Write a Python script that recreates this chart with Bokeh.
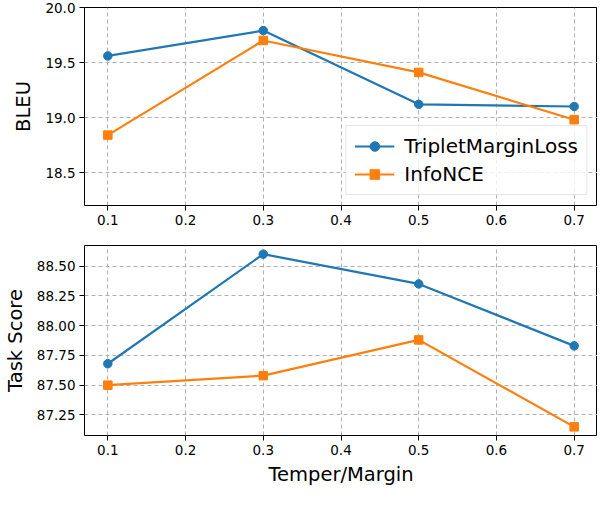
from bokeh.plotting import figure
from bokeh.layouts import column
from bokeh.models import Range1d, FixedTicker, NumeralTickFormatter, Legend, LegendItem
from bokeh.embed import file_html
from bokeh.resources import INLINE

x_vals = [0.1, 0.3, 0.5, 0.7]
bleu_triplet = [19.56, 19.79, 19.12, 19.10]
bleu_infonce = [18.84, 19.70, 19.41, 18.98]
task_triplet = [87.68, 88.60, 88.35, 87.83]
task_infonce = [87.50, 87.58, 87.88, 87.15]
x_ticks = [0.1, 0.2, 0.3, 0.4, 0.5, 0.6, 0.7]
bleu_ticks = [18.5, 19.0, 19.5, 20.0]
task_ticks = [87.25, 87.50, 87.75, 88.00, 88.25, 88.50]

BLUE = "#1f77b4"
ORANGE = "#ff7f0e"
FONT = "DejaVu Sans"
W = 597


def style(p, yticks, yfmt, ylabel):
    p.outline_line_color = "black"
    p.outline_line_width = 1
    p.outline_line_alpha = 1
    p.background_fill_color = "white"
    p.border_fill_color = "white"
    for ax in (p.xaxis[0], p.yaxis[0]):
        ax.axis_line_color = None
        ax.major_tick_line_color = "black"
        ax.major_tick_out = 5
        ax.major_tick_in = 0
        ax.minor_tick_line_color = None
        ax.major_label_standoff = 4
        ax.major_label_text_font = FONT
        ax.major_label_text_font_size = "13.5px"
        ax.major_label_text_color = "black"
        ax.axis_label_text_font = FONT
        ax.axis_label_text_font_size = "19.5px"
        ax.axis_label_text_font_style = "normal"
        ax.axis_label_text_color = "black"
        ax.axis_label_standoff = 7
    p.xaxis[0].ticker = FixedTicker(ticks=x_ticks)
    p.xaxis[0].formatter = NumeralTickFormatter(format="0.0")
    p.yaxis[0].ticker = FixedTicker(ticks=yticks)
    p.yaxis[0].formatter = NumeralTickFormatter(format=yfmt)
    p.yaxis[0].axis_label = ylabel
    for g in (p.xgrid[0], p.ygrid[0]):
        g.grid_line_color = "#b0b0b0"
        g.grid_line_dash = "4 3"
        g.grid_line_width = 1


p1 = figure(width=W, height=235, output_backend="svg", toolbar_location=None,
            x_range=Range1d(0.07, 0.73), y_range=Range1d(18.2, 20.0),
            min_border_left=70, min_border_right=0, min_border_top=7, min_border_bottom=30)
style(p1, bleu_ticks, "0.0", "BLEU")
l1 = p1.line(x_vals, bleu_triplet, line_color=BLUE, line_width=2.2)
s1 = p1.scatter(x_vals, bleu_triplet, marker="circle", size=8.5, fill_color=BLUE, line_color=BLUE)
l2 = p1.line(x_vals, bleu_infonce, line_color=ORANGE, line_width=2.2)
s2 = p1.scatter(x_vals, bleu_infonce, marker="square", size=8.5, fill_color=ORANGE, line_color=ORANGE)
legend = Legend(items=[LegendItem(label="TripletMarginLoss", renderers=[l1, s1]),
                       LegendItem(label="InfoNCE", renderers=[l2, s2])],
                location="bottom_right")
legend.margin = 10
legend.padding = 8
legend.spacing = 4
legend.label_height = 24
legend.glyph_height = 24
legend.glyph_width = 40
legend.label_standoff = 10
legend.label_text_font = FONT
legend.label_text_font_size = "20px"
legend.label_text_color = "black"
legend.border_line_color = "#cccccc"
legend.border_line_width = 1
legend.background_fill_alpha = 0.8
p1.add_layout(legend, "center")

p2 = figure(width=W, height=253, output_backend="svg", toolbar_location=None,
            x_range=Range1d(0.07, 0.73), y_range=Range1d(87.0775, 88.6725),
            min_border_left=70, min_border_right=0, min_border_top=10, min_border_bottom=45)
style(p2, task_ticks, "0.00", "Task Score")
p2.xaxis[0].axis_label = "Temper/Margin"
p2.xaxis[0].axis_label_standoff = 5
p2.line(x_vals, task_triplet, line_color=BLUE, line_width=2.2)
p2.scatter(x_vals, task_triplet, marker="circle", size=8.5, fill_color=BLUE, line_color=BLUE)
p2.line(x_vals, task_infonce, line_color=ORANGE, line_width=2.2)
p2.scatter(x_vals, task_infonce, marker="square", size=8.5, fill_color=ORANGE, line_color=ORANGE)

layout = column(p1, p2)
open("out.html", "w").write(file_html(layout, INLINE))
